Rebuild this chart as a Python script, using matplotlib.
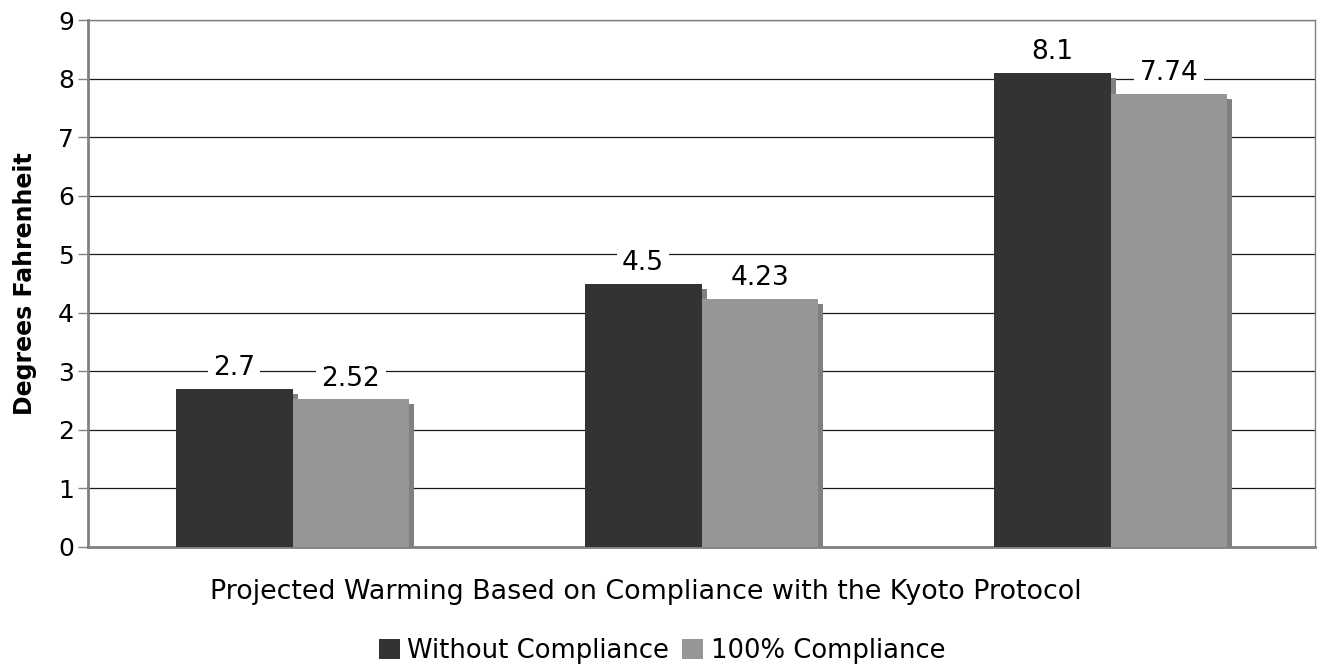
import matplotlib
matplotlib.use("Agg")
import matplotlib.pyplot as plt
from matplotlib.patches import Patch
from matplotlib import transforms
import numpy as np

plt.rcParams['font.family'] = ['DejaVu Sans']

categories = ["Scenario A", "Scenario B", "Scenario C"]
series_names = ["Without Compliance", "100% Compliance"]
without_compliance = [2.7, 4.5, 8.1]
full_compliance = [2.52, 4.23, 7.74]
value_labels_a = ["2.7", "4.5", "8.1"]
value_labels_b = ["2.52", "4.23", "7.74"]
yticks = [0, 1, 2, 3, 4, 5, 6, 7, 8, 9]

colors = ["#333333", "#969696"]
shadow_color = "#808080"

fig = plt.figure(figsize=(13.17, 6.65), dpi=100)
ax = fig.add_axes([88/1317, 1-547/665, (1315-88)/1317, (547-20)/665])

x = np.arange(len(categories))
w = 0.286
shadow_off = transforms.offset_copy(ax.transData, fig=fig, x=3.6, y=-3.6, units='points')

series = [without_compliance, full_compliance]
labels = [value_labels_a, value_labels_b]
for i, (vals, labs) in enumerate(zip(series, labels)):
    xs = x + (i - 0.5) * w
    ax.bar(xs, vals, width=w, color=shadow_color, transform=shadow_off, zorder=2 + 2*i, linewidth=0)
    ax.bar(xs, vals, width=w, color=colors[i], zorder=3 + 2*i, linewidth=0)
    for xx, v, t in zip(xs, vals, labs):
        ax.annotate(t, (xx, v), xytext=(0, 15), textcoords='offset points',
                    ha='center', va='center', fontsize=19, color='black',
                    bbox=dict(boxstyle='square,pad=0.2', fc='white', ec='none'), zorder=10)

ax.set_xlim(-0.5, 2.5)
ax.set_ylim(0, 9)
ax.set_yticks(yticks)
ax.set_yticklabels([str(t) for t in yticks], fontsize=18)
ax.set_xticks([])
ax.yaxis.grid(True, color='#1a1a1a', linewidth=0.9)
ax.set_axisbelow(True)
ax.tick_params(axis='y', length=7, width=1, color='#808080', direction='out', pad=3)

for s in ['left', 'bottom']:
    ax.spines[s].set_color('#808080')
    ax.spines[s].set_linewidth(2)
for s in ['top', 'right']:
    ax.spines[s].set_color('#808080')
    ax.spines[s].set_linewidth(1)

ax.set_ylabel("Degrees Fahrenheit", fontsize=17, fontweight='bold', labelpad=15)
fig.text(646/1317, 1-592/665, "Projected Warming Based on Compliance with the Kyoto Protocol",
         ha='center', va='center', fontsize=19.4)

handles = [Patch(facecolor=c, edgecolor='none') for c in colors]
fig.legend(handles, series_names, loc='center', bbox_to_anchor=(662/1317, 1-651/665),
           ncol=2, frameon=False, fontsize=18.6, handlelength=0.8, handleheight=0.8,
           handletextpad=0.3, columnspacing=0.5)

fig.savefig("out.png", dpi=100)
